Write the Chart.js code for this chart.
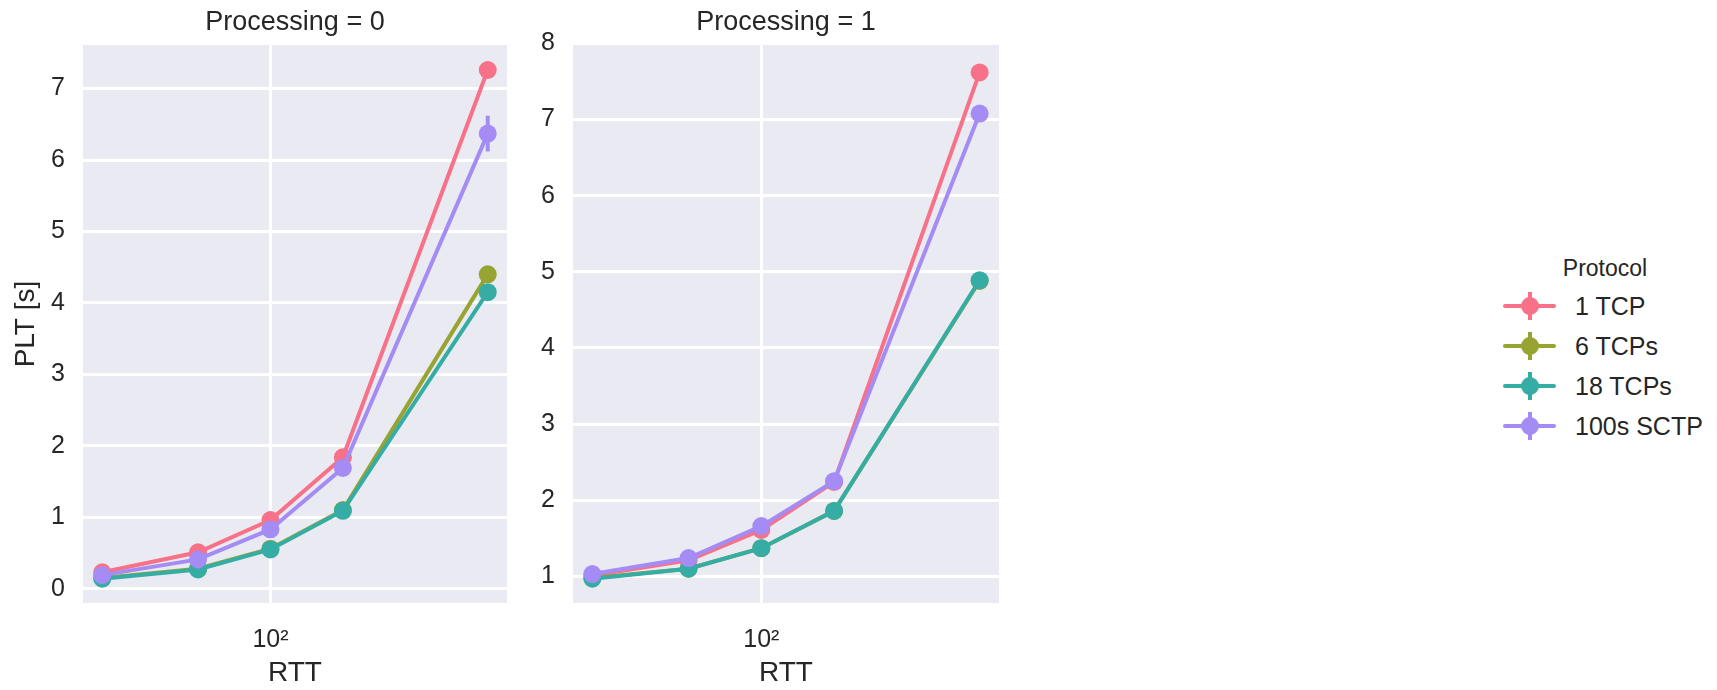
<!DOCTYPE html>
<html>
<head>
<meta charset="utf-8">
<script src="https://cdn.jsdelivr.net/npm/chart.js@4/dist/chart.umd.min.js"></script>
<style>
  body { margin: 0; background: #fff; width: 1717px; height: 690px; position: relative; overflow: hidden;
         font-family: "Liberation Sans", Arial, sans-serif; color: #262626; }
  canvas { position: absolute; top: 0; }
  #legend { position: absolute; left: 0; top: 0; }
  .lg-title { position: absolute; font-size: 23px; line-height: 23px; transform: translate(-50%, -50%); white-space: nowrap; }
  .lg-row { position: absolute; height: 30px; }
  .lg-line { position: absolute; left: 0; top: 13px; width: 53px; height: 4px; border-radius: 2px; }
  .lg-dot { position: absolute; left: 18px; top: 6px; width: 18px; height: 18px; border-radius: 50%; }
  .lg-bar { position: absolute; left: 25px; top: 1px; width: 4px; height: 28px; }
  .lg-text { position: absolute; left: 72px; top: 0; font-size: 25px; line-height: 30px; white-space: nowrap; }
</style>
</head>
<body>
<canvas id="panel0" width="520" height="690" style="left:0px"></canvas>
<canvas id="panel1" width="500" height="690" style="left:520px"></canvas>
<div id="legend"></div>
<script>
// RTT values on the x axis (log scale)
const rtt = [20, 50, 100, 200, 800];
const protocols = ['1 TCP', '6 TCPs', '18 TCPs', '100s SCTP'];
const colors = ['#f77189', '#97a431', '#36ada4', '#a48cf4'];

// Processing = 0
const p0Tcp1 = [0.23, 0.51, 0.96, 1.84, 7.26];
const p0Tcp6 = [0.15, 0.28, 0.56, 1.10, 4.40];
const p0Tcp18 = [0.14, 0.27, 0.55, 1.09, 4.15];
const p0Sctp = [0.19, 0.41, 0.83, 1.69, 6.37];
// error bar half widths
const p0Tcp1Err = [0.02, 0.03, 0.03, 0.05, 0.06];
const p0Tcp6Err = [0.01, 0.02, 0.02, 0.03, 0.06];
const p0Tcp18Err = [0.01, 0.02, 0.02, 0.03, 0.05];
const p0SctpErr = [0.02, 0.03, 0.05, 0.06, 0.25];

// Processing = 1
const p1Tcp1 = [1.01, 1.21, 1.61, 2.24, 7.62];
const p1Tcp6 = [0.98, 1.10, 1.37, 1.86, 4.88];
const p1Tcp18 = [0.97, 1.10, 1.37, 1.86, 4.89];
const p1Sctp = [1.03, 1.24, 1.66, 2.25, 7.08];
const p1Tcp1Err = [0.02, 0.02, 0.03, 0.04, 0.06];
const p1Tcp6Err = [0.01, 0.02, 0.02, 0.03, 0.05];
const p1Tcp18Err = [0.01, 0.02, 0.02, 0.03, 0.05];
const p1SctpErr = [0.02, 0.02, 0.03, 0.04, 0.06];

const xTicks = [100];
const xTickLabels = ['10²'];
const p0YTicks = [0, 1, 2, 3, 4, 5, 6, 7];
const p1YTicks = [1, 2, 3, 4, 5, 6, 7, 8];

const textColor = '#262626';
const fontFamily = '"Liberation Sans", Arial, sans-serif';

// grey panel background like seaborn darkgrid
const panelBg = {
  id: 'panelBg',
  beforeDraw(chart) {
    const { ctx, chartArea: a } = chart;
    ctx.save();
    ctx.fillStyle = '#eaeaf2';
    ctx.fillRect(a.left, a.top, a.right - a.left, a.bottom - a.top);
    ctx.restore();
  }
};

// vertical error bars drawn with each dataset
const errorBars = {
  id: 'errorBars',
  afterDatasetDraw(chart, args) {
    const ds = chart.data.datasets[args.index];
    if (!ds.errors) return;
    const yScale = chart.scales.y;
    const ctx = chart.ctx;
    ctx.save();
    ctx.strokeStyle = ds.borderColor;
    ctx.lineWidth = 4;
    args.meta.data.forEach((pt, i) => {
      const v = ds.data[i].y;
      const e = ds.errors[i];
      ctx.beginPath();
      ctx.moveTo(pt.x, yScale.getPixelForValue(v - e));
      ctx.lineTo(pt.x, yScale.getPixelForValue(v + e));
      ctx.stroke();
    });
    ctx.restore();
  }
};

function makeDatasets(series, errs) {
  return series.map((vals, k) => ({
    label: protocols[k],
    data: rtt.map((x, i) => ({ x: x, y: vals[i] })),
    errors: errs[k],
    borderColor: colors[k],
    backgroundColor: colors[k],
    borderWidth: 4,
    pointRadius: 9,
    pointBorderWidth: 0,
    pointHoverRadius: 9,
    order: 3 - k,
    tension: 0
  }));
}

function makePanel(canvasId, title, series, errs, yMin, yMax, yTicks, yAxisWidth, rightPad, showYTitle) {
  return new Chart(document.getElementById(canvasId), {
    type: 'line',
    data: { datasets: makeDatasets(series, errs) },
    options: {
      responsive: false,
      animation: false,
      layout: { padding: { left: 0, right: rightPad, top: 0, bottom: 0 } },
      plugins: {
        legend: { display: false },
        tooltip: { enabled: false },
        title: {
          display: true,
          text: title,
          fullSize: false,
          color: textColor,
          font: { family: fontFamily, size: 27, weight: 'normal' },
          padding: { top: 6, bottom: 6.6 }
        }
      },
      scales: {
        x: {
          type: 'logarithmic',
          min: 16.63,
          max: 962,
          afterBuildTicks: (scale) => { scale.ticks = xTicks.map(v => ({ value: v })); },
          afterFit: (scale) => { scale.height = 87; },
          ticks: {
            callback: (value) => xTickLabels[xTicks.indexOf(value)] || '',
            color: textColor,
            font: { family: fontFamily, size: 25 },
            padding: 22,
            maxRotation: 0,
            autoSkip: false
          },
          grid: { color: '#ffffff', lineWidth: 3, drawTicks: false },
          border: { display: false },
          title: {
            display: true,
            text: 'RTT',
            color: textColor,
            font: { family: fontFamily, size: 28 },
            padding: { top: 0, bottom: 0 }
          }
        },
        y: {
          min: yMin,
          max: yMax,
          afterBuildTicks: (scale) => { scale.ticks = yTicks.map(v => ({ value: v })); },
          afterFit: (scale) => { scale.width = yAxisWidth; },
          ticks: {
            callback: (value) => String(value),
            color: textColor,
            font: { family: fontFamily, size: 25 },
            padding: 18
          },
          grid: { color: '#ffffff', lineWidth: 3, drawTicks: false },
          border: { display: false },
          title: {
            display: showYTitle,
            text: 'PLT [s]',
            color: textColor,
            font: { family: fontFamily, size: 28 },
            padding: { top: 9, bottom: 0 }
          }
        }
      }
    },
    plugins: [panelBg, errorBars]
  });
}

makePanel('panel0', 'Processing = 0',
  [p0Tcp1, p0Tcp6, p0Tcp18, p0Sctp],
  [p0Tcp1Err, p0Tcp6Err, p0Tcp18Err, p0SctpErr],
  -0.20, 7.61, p0YTicks, 83, 13, true);

makePanel('panel1', 'Processing = 1',
  [p1Tcp1, p1Tcp6, p1Tcp18, p1Sctp],
  [p1Tcp1Err, p1Tcp6Err, p1Tcp18Err, p1SctpErr],
  0.65, 7.98, p1YTicks, 53, 21, false);

// legend on the right
const legendEl = document.getElementById('legend');
const lgTitle = document.createElement('div');
lgTitle.className = 'lg-title';
lgTitle.textContent = 'Protocol';
lgTitle.style.left = '1605px';
lgTitle.style.top = '268px';
legendEl.appendChild(lgTitle);

protocols.forEach((name, k) => {
  const row = document.createElement('div');
  row.className = 'lg-row';
  row.style.left = '1503px';
  row.style.top = (291 + k * 40) + 'px';
  row.innerHTML =
    '<div class="lg-line" style="background:' + colors[k] + '"></div>' +
    '<div class="lg-bar" style="background:' + colors[k] + '"></div>' +
    '<div class="lg-dot" style="background:' + colors[k] + '"></div>' +
    '<div class="lg-text"></div>';
  row.querySelector('.lg-text').textContent = name;
  legendEl.appendChild(row);
});
</script>
</body>
</html>
